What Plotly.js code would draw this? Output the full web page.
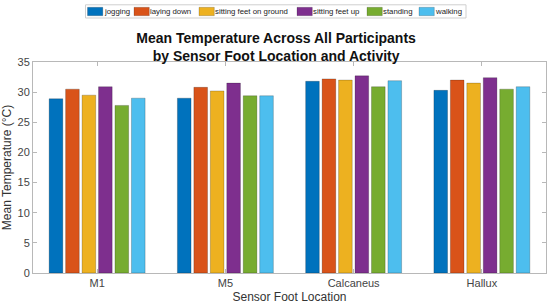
<!DOCTYPE html>
<html><head><meta charset="utf-8">
<script src="https://cdn.plot.ly/plotly-3.0.1.min.js"></script>
<style>html,body{margin:0;padding:0;background:#fff}#chart{width:550px;height:306px}</style>
</head><body><div id="chart"></div>
<script>
const categories = ["M1", "M5", "Calcaneus", "Hallux"];
const activities = ["jogging", "laying down", "sitting feet on ground", "sitting feet up", "standing", "walking"];
const jogging = [28.9, 29.0, 31.8, 30.3];
const layingDown = [30.5, 30.8, 32.2, 32.0];
const sittingGround = [29.5, 30.2, 32.0, 31.5];
const sittingUp = [30.9, 31.5, 32.7, 32.4];
const standing = [27.8, 29.4, 30.9, 30.5];
const walking = [29.0, 29.4, 31.9, 30.9];
const yTicks = [0, 5, 10, 15, 20, 25, 30, 35];

const series = [jogging, layingDown, sittingGround, sittingUp, standing, walking];
const colors = ["#0072BD", "#D95319", "#EDB120", "#7E2F8E", "#77AC30", "#4DBEEE"];

// plot area in pixels (layout)
const W = 550, H = 306, ML = 33, MR = 4, MT = 62, MB = 33;
const PW = W - ML - MR, PH = H - MT - MB;
const px2x = p => (p - ML) / PW;
const px2y = p => 1 - (p - MT) / PH;

// legend layout (pixel positions of each swatch's left edge)
const legendSwatchLeft = [87.5, 134, 199, 297, 367, 419];
const swatchW = 15.3, swTop = 7.3, swBot = 15.7;
const legBox = {x0: 85.5, x1: 466, y0: 4.8, y1: 18};
const FONT = "Liberation Sans";

const traces = series.map((vals, i) => ({
  type: "bar",
  name: activities[i],
  x: categories,
  y: vals,
  marker: {color: colors[i], line: {width: 0.6, color: "rgba(0,0,0,0.35)"}},
  hoverinfo: "skip",
  showlegend: false
}));

const shapes = [{
  type: "rect", xref: "paper", yref: "paper",
  x0: px2x(legBox.x0), x1: px2x(legBox.x1), y0: px2y(legBox.y0), y1: px2y(legBox.y1),
  line: {color: "#cfcfcf", width: 1}, fillcolor: "#fff", layer: "above"
}];
const annotations = [];
activities.forEach((name, i) => {
  const l = legendSwatchLeft[i];
  shapes.push({
    type: "rect", xref: "paper", yref: "paper",
    x0: px2x(l), x1: px2x(l + swatchW), y0: px2y(swTop), y1: px2y(swBot),
    fillcolor: colors[i], line: {color: "rgba(0,0,0,0.3)", width: 0.6}, layer: "above"
  });
  annotations.push({
    xref: "paper", yref: "paper",
    x: px2x(l + swatchW), y: px2y((swTop + swBot) / 2),
    xanchor: "left", yanchor: "middle",
    text: name, showarrow: false, borderpad: 0,
    font: {size: 7.8, color: "#222", family: FONT}
  });
});

const axisFont = {family: FONT, size: 11, color: "#444"};

const layout = {
  width: W, height: H,
  margin: {l: ML, r: MR, t: MT, b: MB},
  paper_bgcolor: "#fff", plot_bgcolor: "#fff",
  barmode: "group",
  bargap: 0.23,
  bargroupgap: 0.17,
  font: {family: FONT, color: "#333"},
  title: {
    text: "<b>Mean Temperature Across All Participants<br>by Sensor Foot Location and Activity</b>",
    font: {size: 14, color: "#111", family: FONT},
    x: 0.502, xref: "container", xanchor: "center",
    y: 1 - 43 / 306, yref: "container", yanchor: "middle"
  },
  xaxis: {
    type: "category",
    range: [-0.5, 3.5],
    showline: true, linecolor: "#b8b8b8", linewidth: 1, mirror: "ticks",
    ticks: "inside", ticklen: 4, tickcolor: "#b8b8b8",
    tickfont: axisFont,
    showgrid: false, zeroline: false,
    title: {text: "Sensor Foot Location", font: {size: 12, color: "#333"}, standoff: 4}
  },
  yaxis: {
    range: [0, 35],
    tickvals: yTicks,
    showline: true, linecolor: "#b8b8b8", linewidth: 1, mirror: "ticks",
    ticks: "inside", ticklen: 4, tickcolor: "#b8b8b8",
    tickfont: axisFont,
    showgrid: false, zeroline: false,
    title: {text: "Mean Temperature (°C)", font: {size: 12, color: "#333"}, standoff: 4}
  },
  shapes: shapes,
  annotations: annotations,
  showlegend: false
};

Plotly.newPlot("chart", traces, layout, {displayModeBar: false, staticPlot: true});
</script>
</body></html>
